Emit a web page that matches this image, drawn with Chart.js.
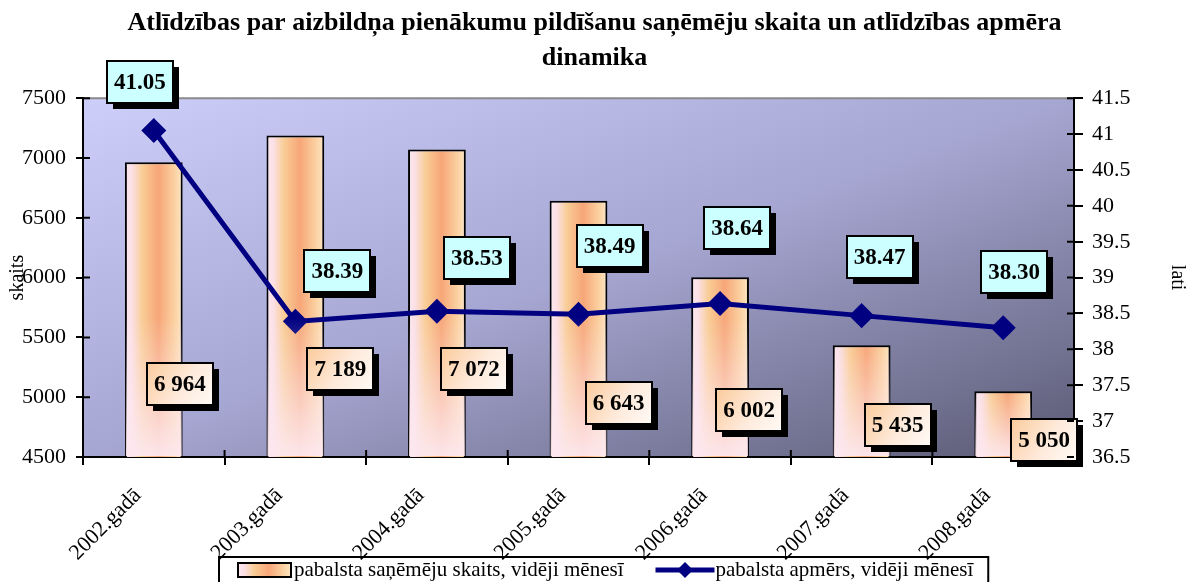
<!DOCTYPE html>
<html>
<head>
<meta charset="utf-8">
<script src="https://cdn.jsdelivr.net/npm/chart.js@4.4.1/dist/chart.umd.min.js"></script>
<style>
html, body { margin: 0; padding: 0; background: #fff; }
</style>
</head>
<body>
<canvas id="chart" width="1189" height="582"></canvas>
<script>
// data
const years = ['2002.gadā', '2003.gadā', '2004.gadā', '2005.gadā', '2006.gadā', '2007.gadā', '2008.gadā'];
const recipients = [6964, 7189, 7072, 6643, 6002, 5435, 5050];
const amounts = [41.05, 38.39, 38.53, 38.49, 38.64, 38.47, 38.30];
const countAxis = { min: 4500, max: 7500, step: 500 };
const latiAxis = { min: 36.5, max: 41.5, step: 0.5 };

// where the data label boxes sit relative to their mark (layout only)
const amountLabelShift = [[-14, -48], [42, -50], [40, -53], [31, -68], [17, -75], [18, -59], [11, -56]];
const countLabelShift = [[26, -73], [45, -88], [37, -88], [40, -54], [29, -47], [36, -32], [41, -17]];

const serif = "'Liberation Serif', 'Times New Roman', serif";
const NAVY = '#000080';
const CAT_PCT = 0.8, BAR_PCT = 0.51;

function spaced(v) {
  return String(v).replace(/\B(?=(\d{3})+(?!\d))/g, ' ');
}

function barGradient(ctx, x0, x1) {
  const g = ctx.createLinearGradient(x0, 0, x1, 0);
  g.addColorStop(0, '#fde8f0');
  g.addColorStop(0.12, '#fbe0e6');
  g.addColorStop(0.3, '#f9cd96');
  g.addColorStop(0.58, '#f7a678');
  g.addColorStop(0.85, '#fbd0a0');
  g.addColorStop(1, '#fde6c4');
  return g;
}

function barHalfWidth(chart) {
  return (chart.scales.x.width / years.length) * CAT_PCT * BAR_PCT / 2;
}

const plotBackground = {
  id: 'plotBackground',
  beforeDraw(chart) {
    const { ctx, chartArea: a } = chart;
    ctx.save();
    ctx.translate(a.left, a.top);
    ctx.scale(a.right - a.left, a.bottom - a.top);
    const g = ctx.createLinearGradient(0, 0, 1, 1);
    g.addColorStop(0, '#cecefb');
    g.addColorStop(0.5, '#a6a6d2');
    g.addColorStop(1, '#5a5a74');
    ctx.fillStyle = g;
    ctx.fillRect(0, 0, 1, 1);
    ctx.restore();
    ctx.save();
    ctx.strokeStyle = '#8a8a8a';
    ctx.lineWidth = 2;
    ctx.beginPath(); ctx.moveTo(a.left, a.top); ctx.lineTo(a.right, a.top); ctx.stroke();
    ctx.restore();
  }
};

// pale fade towards the foot of each bar
const barFade = {
  id: 'barFade',
  afterDatasetsDraw(chart) {
    const ctx = chart.ctx;
    const xs = chart.scales.x, ys = chart.scales.y;
    const half = barHalfWidth(chart);
    const base = ys.getPixelForValue(countAxis.min);
    recipients.forEach((v, i) => {
      const x = xs.getPixelForValue(i);
      const y = ys.getPixelForValue(v);
      const h = base - y;
      const g = ctx.createLinearGradient(0, y, 0, base);
      g.addColorStop(0, 'rgba(253,232,240,0)');
      g.addColorStop(Math.max(0, 1 - 140 / h), 'rgba(253,232,240,0)');
      g.addColorStop(1, 'rgba(253,232,240,0.95)');
      ctx.save();
      ctx.fillStyle = g;
      ctx.fillRect(x - half + 1, y + 1, half * 2 - 2, h - 2);
      ctx.restore();
    });
  }
};

// ticks in the reference cross the axis line
const innerTicks = {
  id: 'innerTicks',
  afterDraw(chart) {
    const ctx = chart.ctx;
    const { x, y, y1 } = chart.scales;
    ctx.save();
    ctx.strokeStyle = '#000';
    ctx.lineWidth = 2;
    ctx.beginPath();
    y.ticks.forEach(t => { const p = y.getPixelForValue(t.value); ctx.moveTo(y.right, p); ctx.lineTo(y.right + 7, p); });
    y1.ticks.forEach(t => { const p = y1.getPixelForValue(t.value); ctx.moveTo(y1.left, p); ctx.lineTo(y1.left - 7, p); });
    const step = x.width / years.length;
    for (let i = 1; i < years.length; i++) {
      const p = x.left + step * i;
      ctx.moveTo(p, x.top); ctx.lineTo(p, x.top - 7);
    }
    ctx.stroke();
    ctx.restore();
  }
};

function drawBox(ctx, cx, cy, text, fill) {
  ctx.font = 'bold 23px ' + serif;
  const w = Math.round(ctx.measureText(text).width) + 14;
  const h = 42;
  const bx = Math.round(cx - w / 2), by = Math.round(cy - h / 2);
  ctx.fillStyle = '#000';
  ctx.fillRect(bx + 6, by + 6, w, h);
  ctx.fillStyle = typeof fill === 'function' ? fill(bx, by, w, h) : fill;
  ctx.fillRect(bx, by, w, h);
  ctx.strokeStyle = '#000';
  ctx.lineWidth = 2;
  ctx.strokeRect(bx, by, w, h);
  ctx.fillStyle = '#000';
  ctx.textAlign = 'center';
  ctx.textBaseline = 'middle';
  ctx.fillText(text, cx, cy + 1);
}

const boxLabels = {
  id: 'boxLabels',
  afterDatasetsDraw(chart) {
    const ctx = chart.ctx;
    const xs = chart.scales.x, ys = chart.scales.y, ys1 = chart.scales.y1;
    const base = ys.getPixelForValue(countAxis.min);
    ctx.save();
    recipients.forEach((v, i) => {
      const [dx, dy] = countLabelShift[i];
      drawBox(ctx, xs.getPixelForValue(i) + dx, base + dy, spaced(v), (bx, by, bw, bh) => {
        const g = ctx.createLinearGradient(bx, by, bx + bw, by + bh);
        g.addColorStop(0, '#fbcb9c');
        g.addColorStop(0.55, '#feeadb');
        g.addColorStop(1, '#fffaf6');
        return g;
      });
    });
    amounts.forEach((v, i) => {
      const [dx, dy] = amountLabelShift[i];
      drawBox(ctx, xs.getPixelForValue(i) + dx, ys1.getPixelForValue(v) + dy, v.toFixed(2), '#ccffff');
    });
    ctx.restore();
  }
};

// legend in a framed box that runs off the bottom edge, as in the reference
const boxedLegend = {
  id: 'boxedLegend',
  afterDraw(chart) {
    const ctx = chart.ctx;
    const ds = chart.data.datasets;
    ctx.save();
    ctx.font = '21px ' + serif;
    const t1 = ctx.measureText(ds[0].label).width;
    const t2 = ctx.measureText(ds[1].label).width;
    const iconW = 53, lineW = 59, gapIcon = 3, gapItems = 32, padL = 19, padR = 15;
    const total = padL + iconW + gapIcon + t1 + gapItems + lineW + 1 + t2 + padR;
    const left = Math.round(chart.width / 2 + 9 - total / 2);
    const top = chart.height - 25;
    const cy = top + 13;
    ctx.strokeStyle = '#000';
    ctx.lineWidth = 2;
    ctx.strokeRect(left, top, total, 40);

    let x = left + padL;
    ctx.fillStyle = barGradient(ctx, x, x + iconW);
    ctx.fillRect(x, cy - 7, iconW, 14);
    ctx.strokeRect(x, cy - 7, iconW, 14);
    x += iconW + gapIcon;
    ctx.fillStyle = '#000';
    ctx.textAlign = 'left';
    ctx.textBaseline = 'middle';
    ctx.fillText(ds[0].label, x, cy);
    x += t1 + gapItems;

    ctx.strokeStyle = NAVY;
    ctx.lineWidth = 5;
    ctx.beginPath(); ctx.moveTo(x, cy); ctx.lineTo(x + lineW, cy); ctx.stroke();
    ctx.fillStyle = NAVY;
    const mx = x + lineW / 2;
    ctx.beginPath(); ctx.moveTo(mx, cy - 8); ctx.lineTo(mx + 8, cy); ctx.lineTo(mx, cy + 8); ctx.lineTo(mx - 8, cy); ctx.closePath(); ctx.fill();
    x += lineW + 1;
    ctx.fillStyle = '#000';
    ctx.fillText(ds[1].label, x, cy);
    ctx.restore();
  }
};

const ctx = document.getElementById('chart').getContext('2d');
const myChart = new Chart(ctx, {
  data: {
    labels: years,
    datasets: [{
      type: 'bar',
      label: 'pabalsta saņēmēju skaits, vidēji mēnesī',
      data: recipients,
      yAxisID: 'y',
      order: 2,
      categoryPercentage: CAT_PCT,
      barPercentage: BAR_PCT,
      borderColor: '#000',
      borderWidth: 2,
      borderSkipped: false,
      backgroundColor: function (c) {
        const chart = c.chart;
        const xs = chart.scales.x;
        if (!xs || c.dataIndex === undefined) return '#f8b88b';
        const cx = xs.getPixelForValue(c.dataIndex);
        const half = barHalfWidth(chart);
        if (!Number.isFinite(cx) || !Number.isFinite(half)) return '#f8b88b';
        return barGradient(chart.ctx, cx - half, cx + half);
      }
    }, {
      type: 'line',
      label: 'pabalsta apmērs, vidēji mēnesī',
      data: amounts,
      yAxisID: 'y1',
      order: 1,
      borderColor: NAVY,
      borderWidth: 5,
      backgroundColor: NAVY,
      pointStyle: 'rectRot',
      pointRadius: 9,
      pointBackgroundColor: NAVY,
      pointBorderColor: NAVY,
      tension: 0,
      fill: false
    }]
  },
  options: {
    responsive: false,
    animation: false,
    layout: { padding: { left: 0, right: 0, top: 0, bottom: 22 } },
    plugins: {
      title: {
        display: true,
        text: ['Atlīdzības par aizbildņa pienākumu pildīšanu saņēmēju skaita un atlīdzības apmēra', 'dinamika'],
        color: '#000',
        font: { family: serif, size: 26, weight: 'bold', lineHeight: 1.35 },
        padding: { top: 6, bottom: 22 }
      },
      legend: { display: false },
      tooltip: { enabled: false }
    },
    scales: {
      x: {
        offset: true,
        grid: { offset: true, drawOnChartArea: false, color: '#000', lineWidth: 2, tickLength: 8 },
        border: { color: '#000', width: 2 },
        ticks: {
          color: '#000',
          font: { family: serif, size: 22 },
          minRotation: 45,
          maxRotation: 45,
          labelOffset: -16,
          padding: 18
        },
        afterFit: s => { s.height = 103; }
      },
      y: {
        position: 'left',
        min: countAxis.min,
        max: countAxis.max,
        ticks: {
          stepSize: countAxis.step,
          color: '#000',
          font: { family: serif, size: 22 },
          padding: 10,
          callback: v => String(v)
        },
        grid: { drawOnChartArea: false, color: '#000', lineWidth: 2, tickLength: 7 },
        border: { color: '#000', width: 2 },
        title: { display: true, text: 'skaits', color: '#000', font: { family: serif, size: 20 }, padding: { top: 6, bottom: 0 } },
        afterFit: s => { s.width = 83; }
      },
      y1: {
        position: 'right',
        min: latiAxis.min,
        max: latiAxis.max,
        ticks: {
          stepSize: latiAxis.step,
          color: '#000',
          font: { family: serif, size: 22 },
          padding: 9,
          callback: v => String(v)
        },
        grid: { drawOnChartArea: false, color: '#000', lineWidth: 2, tickLength: 9 },
        border: { color: '#000', width: 2 },
        title: { display: true, text: 'lati', color: '#000', font: { family: serif, size: 20 }, padding: { top: 0, bottom: 6 } },
        afterFit: s => { s.width = 115; }
      }
    }
  },
  plugins: [plotBackground, barFade, boxLabels, innerTicks, boxedLegend]
});
</script>
</body>
</html>
